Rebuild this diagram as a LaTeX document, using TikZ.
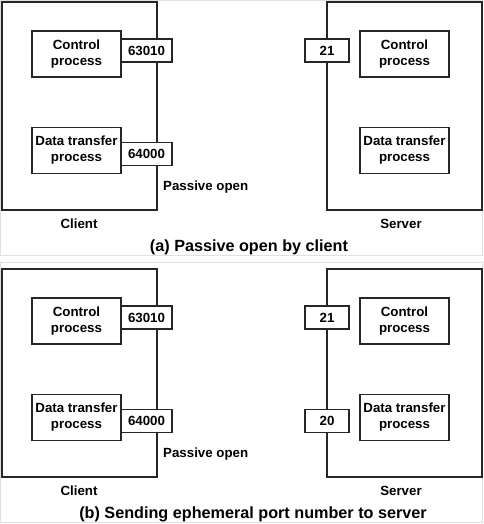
\documentclass[tikz,border=0pt]{standalone}
\usepackage{fontspec}
\setmainfont{Liberation Sans}
\begin{document}
\begin{tikzpicture}[x=1pt,y=-1pt,
  box/.style={draw=black!85,line width=1.25pt,rectangle,inner sep=0pt,fill=white},
  host/.style={box,minimum width=155pt,minimum height=208pt},
  proc/.style={box,minimum width=89pt,minimum height=46pt,align=center,font=\fontsize{13.3}{16}\selectfont\bfseries},
  port/.style={box,minimum height=23pt,font=\fontsize{13.3}{16}\selectfont\bfseries},
  lbl/.style={inner sep=0pt,font=\fontsize{13.3}{16}\selectfont\bfseries},
  captxt/.style={inner sep=0pt,font=\fontsize{16.2}{19}\selectfont\bfseries},
  panelframe/.style={draw=black!12,line width=0.8pt}]
\useasboundingbox (0,0) rectangle (483,524);
% panel frames
\draw[panelframe] (0.5,0.5) rectangle (482.5,255.5);
\draw[panelframe] (0.5,262.5) rectangle (482.5,522.5);
% ---------- panel (a) ----------
\node[host] (clientA) at (79.5,106) {};
\node[host] (serverA) at (404.5,106) {};
\node[proc] (cctrlA) at (76.5,54) {Control\\process};
\node[proc] (cdataA) at (76.5,150.5) {Data transfer\\process};
\node[port,minimum width=51pt] (p63010A) at (146.5,50.5) {63010};
\node[port,minimum width=51pt] (p64000A) at (146.5,154) {64000};
\node[port,minimum width=44pt] (p21A) at (327,50.5) {21};
\node[proc] (sctrlA) at (404.5,54) {Control\\process};
\node[proc] (sdataA) at (404.5,150.5) {Data transfer\\process};
\node[lbl,anchor=west] (passA) at (163,187) {Passive open};
\node[lbl] (clA) at (79,224) {Client};
\node[lbl] (svA) at (401,224) {Server};
\node[captxt] (capA) at (249,247) {(a) Passive open by client};
% ---------- panel (b) ----------
\node[host] (clientB) at (79.5,373) {};
\node[host] (serverB) at (404.5,373) {};
\node[proc] (cctrlB) at (76.5,321) {Control\\process};
\node[proc] (cdataB) at (76.5,417.5) {Data transfer\\process};
\node[port,minimum width=51pt] (p63010B) at (146.5,317.5) {63010};
\node[port,minimum width=51pt] (p64000B) at (146.5,421) {64000};
\node[port,minimum width=44pt] (p21B) at (327,317.5) {21};
\node[port,minimum width=44pt] (p20B) at (327,421) {20};
\node[proc] (sctrlB) at (404.5,321) {Control\\process};
\node[proc] (sdataB) at (404.5,417.5) {Data transfer\\process};
\node[lbl,anchor=west] (passB) at (163,454) {Passive open};
\node[lbl] (clB) at (79,491) {Client};
\node[lbl] (svB) at (401,491) {Server};
\node[captxt] (capB) at (253,514) {(b) Sending ephemeral port number to server};
\end{tikzpicture}
\end{document}
